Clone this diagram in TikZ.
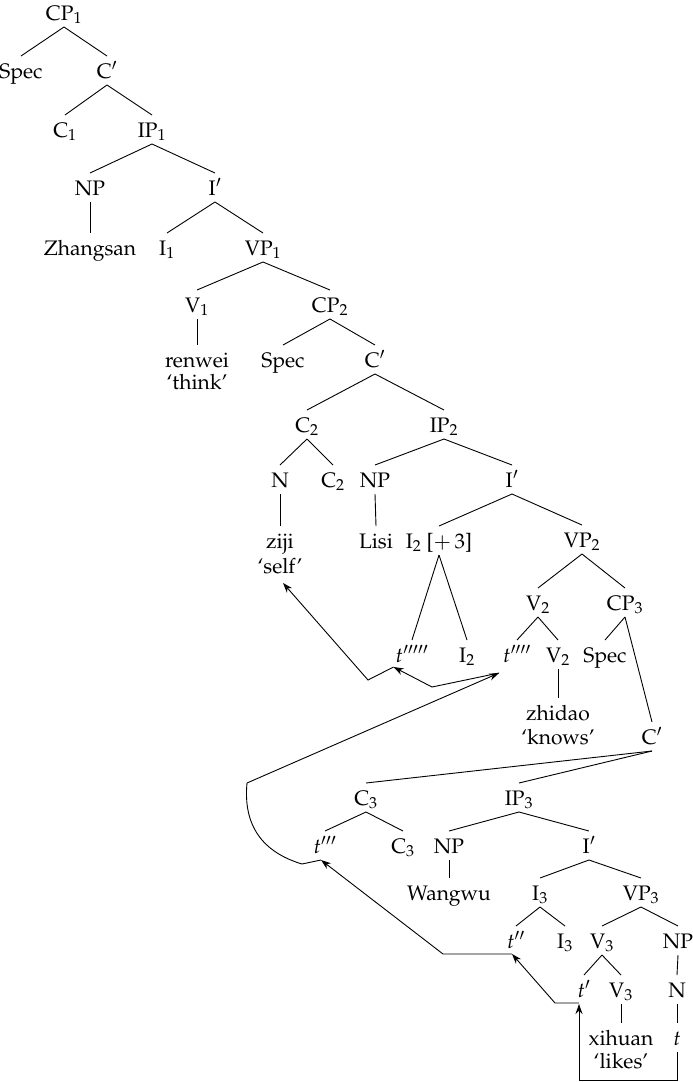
\documentclass[tikz,border=0pt]{standalone}
\usepackage[T1]{fontenc}
\usepackage{mathpazo}
\usetikzlibrary{arrows.meta}
\tikzset{
  lbl/.style={font=\fontsize{21}{24}\selectfont, inner xsep=1pt, inner ysep=2pt, outer sep=0pt, text height=20pt, text depth=5pt, anchor=base},
  br/.style={line width=0.9pt},
  mv/.style={line width=0.9pt, -{Stealth[length=10pt,width=7pt]}}
}
\begin{document}
\begin{tikzpicture}[x=1pt,y=-1pt]
\useasboundingbox (0,0) rectangle (693,1082);
\node[lbl] (cp1) at (64,20) {CP$_1$};
\node[lbl] (spec1) at (21,78) {Spec};
\node[lbl] (cb1) at (107,78) {C$'$};
\node[lbl] (c1) at (65,137) {C$_1$};
\node[lbl] (ip1) at (152,137) {IP$_1$};
\node[lbl] (np1) at (90,195) {NP};
\node[lbl] (ib1) at (215,195) {I$'$};
\node[lbl] (zhang) at (90,255) {Zhangsan};
\node[lbl] (i1) at (167,255) {I$_1$};
\node[lbl] (vp1) at (263,255) {VP$_1$};
\node[lbl] (v1) at (197,312) {V$_1$};
\node[lbl] (cp2) at (330,312) {CP$_2$};
\node[lbl] (renwei) at (197,367) {renwei};
\node[lbl] (renweig) at (197,389) {`think'};
\node[lbl] (spec2) at (283,367) {Spec};
\node[lbl] (cb2) at (375,367) {C$'$};
\node[lbl] (c2) at (307,432) {C$_2$};
\node[lbl] (ip2) at (444,432) {IP$_2$};
\node[lbl] (n2) at (280,487) {N};
\node[lbl] (c2b) at (333,487) {C$_2$};
\node[lbl] (np2) at (375,487) {NP};
\node[lbl] (ib2) at (512,487) {I$'$};
\node[lbl] (ziji) at (280,548) {ziji};
\node[lbl] (zijig) at (280,573) {`self'};
\node[lbl] (lisi) at (376,548) {Lisi};
\node[lbl] (i2) at (439,548) {I$_2$ [$+$\,3]};
\node[lbl] (vp2) at (582,547) {VP$_2$};
\node[lbl] (v2) at (538,610) {V$_2$};
\node[lbl] (cp3) at (625,610) {CP$_3$};
\node[lbl] (t5) at (412,662) {$t'''''$};
\node[lbl] (i2b) at (467,662) {I$_2$};
\node[lbl] (t4) at (517,662) {$t''''$};
\node[lbl] (v2b) at (558,662) {V$_2$};
\node[lbl] (spec3) at (605,662) {Spec};
\node[lbl] (zhidao) at (558,720) {zhidao};
\node[lbl] (zhidaog) at (558,744) {`knows'};
\node[lbl] (cb3) at (652,744) {C$'$};
\node[lbl] (c3) at (366,805) {C$_3$};
\node[lbl] (ip3) at (519,805) {IP$_3$};
\node[lbl] (t3) at (325,853) {$t'''$};
\node[lbl] (c3b) at (403,853) {C$_3$};
\node[lbl] (np3) at (449,853) {NP};
\node[lbl] (ib3) at (589,853) {I$'$};
\node[lbl] (wangwu) at (449,900) {Wangwu};
\node[lbl] (i3) at (540,900) {I$_3$};
\node[lbl] (vp3) at (641,900) {VP$_3$};
\node[lbl] (t2) at (516,948) {$t''$};
\node[lbl] (i3b) at (565,948) {I$_3$};
\node[lbl] (v3) at (602,948) {V$_3$};
\node[lbl] (np4) at (678,948) {NP};
\node[lbl] (t1) at (584,997) {$t'$};
\node[lbl] (v3b) at (621,997) {V$_3$};
\node[lbl] (n4) at (677,997) {N};
\node[lbl] (xihuan) at (621,1045) {xihuan};
\node[lbl] (xihuang) at (621,1068) {`likes'};
\node[lbl] (t0) at (677,1045) {$t$};
\foreach \a/\b in {cp1/spec1, cp1/cb1, cb1/c1, cb1/ip1, ip1/np1, ip1/ib1, np1/zhang, ib1/i1, ib1/vp1, vp1/v1, vp1/cp2, v1/renwei, cp2/spec2, cp2/cb2, cb2/c2, cb2/ip2, c2/n2, c2/c2b, n2/ziji, ip2/np2, ip2/ib2, np2/lisi, ib2/i2, ib2/vp2, i2/t5, i2/i2b, vp2/v2, vp2/cp3, v2/t4, v2/v2b, v2b/zhidao, cp3/spec3, cp3/cb3, cb3/c3, cb3/ip3, c3/t3, c3/c3b, ip3/np3, ip3/ib3, np3/wangwu, ib3/i3, ib3/vp3, i3/t2, i3/i3b, vp3/v3, vp3/np4, v3/t1, v3/v3b, v3b/xihuan, np4/n4, n4/t0}
  \draw[br] (\a.south) -- (\b.north);
\draw[mv] (t0.south) |- (579,1080) -- ([shift={(-5,0)}]t1.south);
\draw[mv] ([shift={(-5,-1)}]t1.south) -- (555,1003) -- ([shift={(-4,-1)}]t2.south);
\draw[mv] ([shift={(-4,-1)}]t2.south) -- (443,954) -- ([shift={(-4,0)}]t3.south);
\draw[mv] ([shift={(-4,0)}]t3.south) -- (302,864) .. controls (262,852) and (243,825) .. (247,783) -- ([shift={(-3,4)}]t4.south west);
\draw[mv] ([shift={(-3,4)}]t4.south west) -- (432,687) -- ([shift={(-1,-2)}]t5.south west);
\draw[mv] ([shift={(-1,-2)}]t5.south west) -- (368,680) -- ([shift={(3,3)}]zijig.south);
\end{tikzpicture}
\end{document}
